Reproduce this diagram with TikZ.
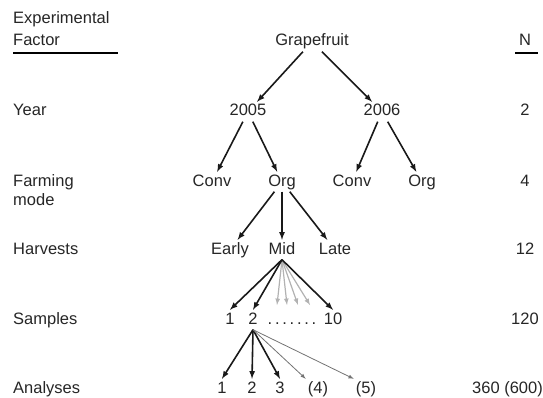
\documentclass[tikz,border=0pt]{standalone}
\usepackage{fontspec}
\setsansfont{Liberation Sans}
\usetikzlibrary{arrows}

\begin{document}
\begin{tikzpicture}[x = 1pt, y = -1pt, font=\sffamily\fontsize{16.5}{19}\selectfont]
	\tikzstyle{factorStyle} = [anchor = base west, inner sep = 0pt, text = black!85]
	\tikzstyle{treeStyle} = [anchor = base, inner sep = 2pt, text height = 12pt, text depth = 3.5pt, text = black!85]
	\tikzstyle{countStyle} = [anchor = base, inner sep = 0pt, text = black!85]
	\tikzstyle{mainArrow} = [-latex, line width = 1.6pt, black!90]
	\tikzstyle{lightArrow} = [-latex, line width = 1.2pt, black!30]
	\tikzstyle{thinArrow} = [-latex, line width = 0.8pt, black!55]
	\useasboundingbox (0,0) rectangle (543,398);
	% experimental factors
	\node[factorStyle] (f0) at (13,24) {Experimental};
	\node[factorStyle] (f1) at (13,46) {Factor};
	\draw[line width = 2.6pt] (13,53) -- (118,53);
	\node[factorStyle] (f2) at (13,116) {Year};
	\node[factorStyle] (f3) at (13,186) {Farming};
	\node[factorStyle] (f4) at (13,205) {mode};
	\node[factorStyle] (f5) at (13,254) {Harvests};
	\node[factorStyle] (f6) at (13,324) {Samples};
	\node[factorStyle] (f7) at (13,393) {Analyses};
	% counts
	\node[countStyle] (n0) at (525,46) {N};
	\draw[line width = 2.6pt] (515,53) -- (538,53);
	\node[countStyle] (n1) at (525,116) {2};
	\node[countStyle] (n2) at (525,186) {4};
	\node[countStyle] (n3) at (525,254) {12};
	\node[countStyle] (n4) at (525,324) {120};
	\node[countStyle, anchor = base east] (n5) at (543,393) {360 (600)};
	% tree
	\node[treeStyle] (v0) at (312,46) {Grapefruit};
	\node[treeStyle] (v1) at (248,116) {2005};
	\node[treeStyle] (v2) at (382,116) {2006};
	\node[treeStyle] (v3) at (212,186) {Conv};
	\node[treeStyle] (v4) at (282,186) {Org};
	\node[treeStyle] (v5) at (352,186) {Conv};
	\node[treeStyle] (v6) at (422,186) {Org};
	\node[treeStyle] (v7) at (230,254) {Early};
	\node[treeStyle] (v8) at (282,254) {Mid};
	\node[treeStyle] (v9) at (335,254) {Late};
	\node[treeStyle] (s1) at (230,324) {1};
	\node[treeStyle] (s2) at (253,324) {2};
	\node[treeStyle] (sd) at (292,324) {.\,.\,.\,.\,.\,.\,.};
	\node[treeStyle] (s10) at (333,324) {10};
	\node[treeStyle] (a1) at (222,393) {1};
	\node[treeStyle] (a2) at (252,393) {2};
	\node[treeStyle] (a3) at (280,393) {3};
	\node[treeStyle] (a4) at (318,393) {(4)};
	\node[treeStyle] (a5) at (366,393) {(5)};
	\coordinate (g1) at (277,305);
	\coordinate (g2) at (287,305);
	\coordinate (g3) at (298,305);
	\coordinate (g4) at (310,305);
	\draw[mainArrow] (v0) -- (v1);
	\draw[mainArrow] (v0) -- (v2);
	\draw[mainArrow] (v1) -- (v3);
	\draw[mainArrow] (v1) -- (v4);
	\draw[mainArrow] (v2) -- (v5);
	\draw[mainArrow] (v2) -- (v6);
	\draw[mainArrow] (v4) -- (v7);
	\draw[mainArrow] (v4) -- (v8);
	\draw[mainArrow] (v4) -- (v9);
	\draw[lightArrow] (v8.south) -- (g1);
	\draw[lightArrow] (v8.south) -- (g2);
	\draw[lightArrow] (v8.south) -- (g3);
	\draw[lightArrow] (v8.south) -- (g4);
	\draw[mainArrow] (v8.south) -- (s1.north);
	\draw[mainArrow] (v8.south) -- (s2.north);
	\draw[mainArrow] (v8.south) -- (s10.north);
	\draw[mainArrow] (s2.south) -- (a1.north);
	\draw[mainArrow] (s2.south) -- (a2.north);
	\draw[mainArrow] (s2.south) -- (a3.north);
	\draw[thinArrow] (s2.south) -- (a4.north west);
	\draw[thinArrow] (s2.south) -- (a5.north west);
\end{tikzpicture}
\end{document}
